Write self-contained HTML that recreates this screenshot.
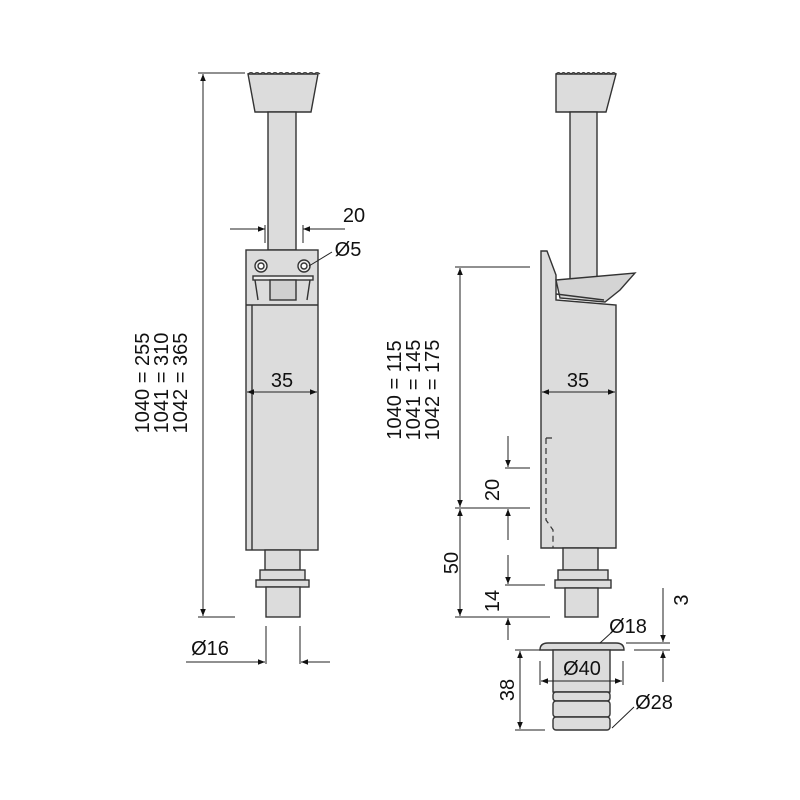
<!DOCTYPE html>
<html><head><meta charset="utf-8"><style>html,body{margin:0;padding:0;background:#fff}svg{display:block}</style></head>
<body>
<svg width="800" height="800" viewBox="0 0 800 800" xmlns="http://www.w3.org/2000/svg" font-family="Liberation Sans, Arial, sans-serif" font-size="20">
<defs>
<marker id="a" viewBox="0 0 10 10" refX="10" refY="5" markerWidth="11" markerHeight="7" orient="auto-start-reverse" markerUnits="userSpaceOnUse"><path d="M0,1 L10,5 L0,9 Z" fill="#111"/></marker>
</defs>
<g stroke="#333" stroke-width="1.4" fill="#dcdcdc">
<path d="M248,74 L318,74 L311,112 L255,112 Z"/>
<path d="M248,74 q3,-3 6,0 q3,-3 6,0 q3,-3 6,0 q3,-3 6,0 q3,-3 6,0 q3,-3 6,0 q3,-3 6,0 q3,-3 6,0 q3,-3 6,0 q3,-3 6,0 q3,-3 6,0 q3,-3 6,0" fill="none" stroke-width="1"/>
<rect x="268" y="112" width="28" height="138"/>
<rect x="246" y="250" width="72" height="300"/>
<line x1="246" y1="305" x2="318" y2="305"/>
<line x1="252" y1="305" x2="252" y2="550"/>
<circle cx="261" cy="266" r="6" fill="#eee"/><circle cx="261" cy="266" r="3" fill="#fff"/>
<circle cx="304" cy="266" r="6" fill="#eee"/><circle cx="304" cy="266" r="3" fill="#fff"/>
<rect x="253" y="276" width="60" height="4" fill="#eee"/>
<path d="M255,280 L258,300 M310,280 L307,300" fill="none"/>
<rect x="270" y="280" width="26" height="20" fill="#d0d0d0"/>
<rect x="265" y="550" width="35" height="20"/>
<rect x="260" y="570" width="45" height="10"/>
<rect x="256" y="580" width="53" height="7"/>
<rect x="266" y="587" width="34" height="30"/>
<path d="M556,74 L616,74 L606,112 L556,112 Z"/>
<path d="M556,74 q2.5,-3 5,0 q2.5,-3 5,0 q2.5,-3 5,0 q2.5,-3 5,0 q2.5,-3 5,0 q2.5,-3 5,0 q2.5,-3 5,0 q2.5,-3 5,0 q2.5,-3 5,0 q2.5,-3 5,0 q2.5,-3 5,0 q2.5,-3 5,0" fill="none" stroke-width="1"/>
<rect x="570" y="112" width="27" height="180"/>
<path d="M541,251 L547,251 L556,275 L556,300 L616,305 L616,548 L541,548 Z"/>
<path d="M556,280 L635,273 L620,290 L605,302 L560,298 Z" fill="#d4d4d4"/>
<path d="M556,294 L604,300" fill="none"/>
<path d="M546,438 L553,438 M546,438 L546,520 L553,530 L553,548" fill="none" stroke-dasharray="6,4" stroke-width="1.2"/>
<rect x="563" y="548" width="35" height="22"/>
<rect x="558" y="570" width="50" height="10"/>
<rect x="555" y="580" width="56" height="8"/>
<rect x="565" y="588" width="33" height="29"/>
<path d="M540,650 Q540,643 548,643 L616,643 Q624,643 624,650 Z"/>
<rect x="553" y="650" width="57" height="42"/>
<rect x="553" y="692" width="57" height="9" rx="3"/>
<rect x="553" y="701" width="57" height="16" rx="3"/>
<rect x="553" y="717" width="57" height="13" rx="3"/>
</g>
<g stroke="#222" stroke-width="1" fill="none">
<line x1="198" y1="73" x2="245" y2="73"/>
<line x1="203" y1="74" x2="203" y2="616" marker-start="url(#a)" marker-end="url(#a)"/>
<line x1="198" y1="617" x2="235" y2="617"/>
<line x1="230" y1="229" x2="265" y2="229" marker-end="url(#a)"/>
<line x1="345" y1="229" x2="303" y2="229" marker-end="url(#a)"/>
<line x1="265" y1="225" x2="265" y2="243"/><line x1="303" y1="225" x2="303" y2="243"/>
<line x1="332" y1="252" x2="309" y2="266"/>
<line x1="247" y1="392" x2="317" y2="392" marker-start="url(#a)" marker-end="url(#a)"/>
<line x1="266" y1="626" x2="266" y2="664"/><line x1="300" y1="626" x2="300" y2="664"/>
<line x1="186" y1="662" x2="265" y2="662" marker-end="url(#a)"/>
<line x1="330" y1="662" x2="301" y2="662" marker-end="url(#a)"/>
<line x1="455" y1="267" x2="530" y2="267"/>
<line x1="460" y1="268" x2="460" y2="507" marker-start="url(#a)" marker-end="url(#a)"/>
<line x1="455" y1="508" x2="530" y2="508"/>
<line x1="460" y1="509" x2="460" y2="616" marker-start="url(#a)" marker-end="url(#a)"/>
<line x1="455" y1="617" x2="550" y2="617"/>
<line x1="505" y1="468" x2="530" y2="468"/>
<line x1="505" y1="585" x2="545" y2="585"/>
<line x1="508" y1="436" x2="508" y2="467" marker-end="url(#a)"/>
<line x1="508" y1="540" x2="508" y2="509" marker-end="url(#a)"/>
<line x1="508" y1="555" x2="508" y2="584" marker-end="url(#a)"/>
<line x1="508" y1="640" x2="508" y2="618" marker-end="url(#a)"/>
<line x1="542" y1="392" x2="615" y2="392" marker-start="url(#a)" marker-end="url(#a)"/>
<line x1="515" y1="650" x2="540" y2="650"/><line x1="515" y1="730" x2="545" y2="730"/>
<line x1="520" y1="651" x2="520" y2="729" marker-start="url(#a)" marker-end="url(#a)"/>
<line x1="540" y1="661" x2="540" y2="685"/><line x1="623" y1="661" x2="623" y2="685"/>
<line x1="541" y1="681" x2="622" y2="681" marker-start="url(#a)" marker-end="url(#a)"/>
<line x1="626" y1="643" x2="670" y2="643"/><line x1="634" y1="650" x2="670" y2="650"/>
<line x1="663" y1="588" x2="663" y2="642" marker-end="url(#a)"/>
<line x1="663" y1="682" x2="663" y2="651" marker-end="url(#a)"/>
<line x1="600" y1="643" x2="612" y2="632"/>
<line x1="612" y1="728" x2="634" y2="707"/>
</g>
<g fill="#111">
<text x="354" y="222" text-anchor="middle">20</text>
<text x="348" y="256" text-anchor="middle">Ø5</text>
<text x="282" y="387" text-anchor="middle">35</text>
<text x="210" y="655" text-anchor="middle">Ø16</text>
<text transform="translate(149,383) rotate(-90)" text-anchor="middle">1040 = 255</text>
<text transform="translate(168,383) rotate(-90)" text-anchor="middle">1041 = 310</text>
<text transform="translate(187,383) rotate(-90)" text-anchor="middle">1042 = 365</text>
<text transform="translate(401,390) rotate(-90)" text-anchor="middle">1040 = 115</text>
<text transform="translate(420,390) rotate(-90)" text-anchor="middle">1041 = 145</text>
<text transform="translate(439,390) rotate(-90)" text-anchor="middle">1042 = 175</text>
<text x="578" y="387" text-anchor="middle">35</text>
<text transform="translate(499,490) rotate(-90)" text-anchor="middle">20</text>
<text transform="translate(458,563) rotate(-90)" text-anchor="middle">50</text>
<text transform="translate(499,601) rotate(-90)" text-anchor="middle">14</text>
<text transform="translate(688,600) rotate(-90)" text-anchor="middle">3</text>
<text x="628" y="633" text-anchor="middle">Ø18</text>
<text x="582" y="675" text-anchor="middle">Ø40</text>
<text x="654" y="709" text-anchor="middle">Ø28</text>
<text transform="translate(514,690) rotate(-90)" text-anchor="middle">38</text>
</g>
</svg>
</body></html>
